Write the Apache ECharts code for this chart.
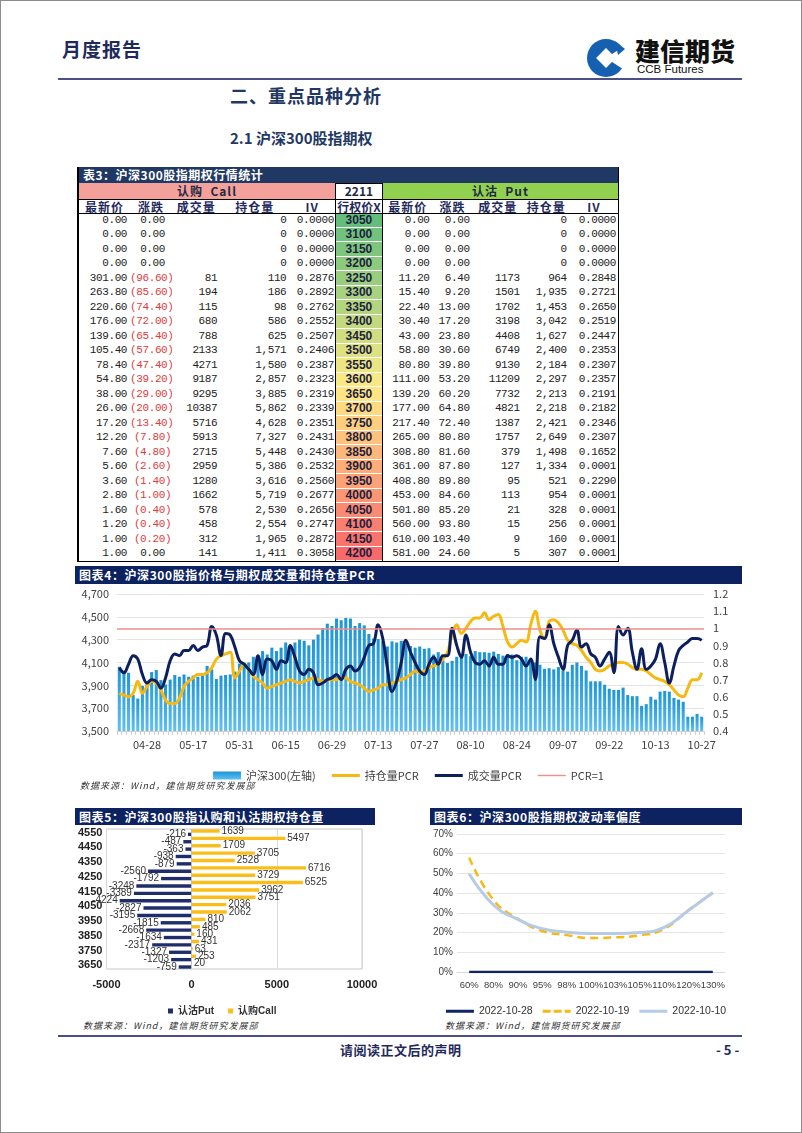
<!DOCTYPE html>
<html><head><meta charset="utf-8">
<script src="https://cdn.jsdelivr.net/npm/echarts/dist/echarts.min.js"></script>
<style>
body{margin:0;width:802px;height:1133px;position:relative;background:#fff;overflow:hidden;font-family:"Noto Sans CJK SC","Liberation Sans",sans-serif;}
.abs{position:absolute;}
.frame{left:0;top:0;width:800px;height:1131px;border:1px solid #8c8c8c;}
.hline{height:2px;background:#4a4f85;}
.tbar{background:#0c2261;color:#fff;font-weight:bold;font-size:12px;line-height:18px;padding-left:4px;letter-spacing:0.6px;box-sizing:border-box;}
.src{font-size:9px;font-style:italic;color:#333;letter-spacing:1px;}
table.q{border-collapse:collapse;table-layout:fixed;width:539px;}
table.q td{padding:0;overflow:hidden;white-space:pre;box-sizing:border-box;}
.ttl td{background:#203864;color:#fff;font-weight:bold;font-size:12px;height:16px;line-height:15px;padding-left:4px !important;letter-spacing:0.5px;}
.hd td{height:16px;line-height:14px;font-weight:bold;font-size:12px;text-align:center;color:#1f2a44;border-bottom:1.5px solid #000;}
.ch td{height:14px;line-height:13px;font-weight:bold;font-size:12px;letter-spacing:1px;color:#1f2a5c;text-align:center;border-bottom:1.5px solid #000;}
.dr td{height:14.5px;line-height:13px;font-family:"Liberation Mono",monospace;font-size:11px;letter-spacing:-0.4px;text-align:right;color:#222;padding-right:3px !important;}
.dr td.k{font-family:"Liberation Sans",sans-serif;font-weight:bold;font-size:12px;letter-spacing:0;text-align:center;color:#1f1f3f;box-shadow:inset 0 -1px 0 #fff;padding-right:0 !important;}
.neg{color:#e03c3c;}
</style></head>
<body>
<div class="abs frame"></div>
<div class="abs" style="left:62px;top:35px;font-size:19px;font-weight:bold;color:#1f2a5c;letter-spacing:1px;">月度报告</div>
<svg class="abs" style="left:585px;top:35px;" width="44" height="46" viewBox="0 0 44 46">
  <circle cx="21" cy="23" r="19" fill="#1560b0"/>
  <path d="M21 23 L44 8 L44 38 Z" fill="#fff"/>
  <rect x="14" y="16" width="14" height="14" fill="#fff" transform="rotate(45 21 23)"/>
  <path d="M30 6 L40 14 L33 20 Z" fill="#1560b0"/>
</svg>
<div class="abs" style="left:635px;top:36px;font-size:25px;font-weight:900;color:#111;line-height:28px;">建信期货</div>
<div class="abs" style="left:637px;top:63px;font-size:11.5px;color:#111;font-family:'Liberation Sans',sans-serif;">CCB Futures</div>
<div class="abs hline" style="left:58px;top:78px;width:684px;"></div>
<div class="abs" style="left:230px;top:82px;font-size:18px;font-weight:bold;color:#1f3864;letter-spacing:1px;">二、重点品种分析</div>
<div class="abs" style="left:230px;top:127px;font-size:15px;font-weight:bold;color:#1f3864;">2.1 沪深300股指期权</div>

<div class="abs" style="left:77px;top:167px;border-left:2px solid #000;border-right:1.5px solid #000;border-bottom:1.5px solid #000;">
<table class="q" id="tbl"></table>
</div>

<div class="abs tbar" style="left:75px;top:566px;width:667px;height:18px;">图表4：沪深300股指价格与期权成交量和持仓量PCR</div>
<div class="abs" id="c4" style="left:75px;top:584px;width:667px;height:200px;"></div>
<div class="abs src" style="left:80px;top:779px;">数据来源：Wind，建信期货研究发展部</div>

<div class="abs tbar" style="left:75px;top:808px;width:300px;height:17px;line-height:17px;">图表5：沪深300股指认购和认沽期权持仓量</div>
<div class="abs" id="c5" style="left:75px;top:825px;width:320px;height:190px;"></div>
<div class="abs tbar" style="left:430px;top:808px;width:312px;height:17px;line-height:17px;">图表6：沪深300股指期权波动率偏度</div>
<div class="abs" id="c6" style="left:430px;top:825px;width:312px;height:190px;"></div>
<div class="abs src" style="left:83px;top:1019px;">数据来源：Wind，建信期货研究发展部</div>
<div class="abs src" style="left:445px;top:1019px;">数据来源：Wind，建信期货研究发展部</div>

<div class="abs hline" style="left:58px;top:1035px;width:684px;"></div>
<div class="abs" style="left:340px;top:1040px;font-size:13px;font-weight:bold;color:#1f2a5c;letter-spacing:0.5px;">请阅读正文后的声明</div>
<div class="abs" style="left:716px;top:1040px;font-size:13px;font-weight:bold;color:#1f2a5c;">- 5 -</div>

<script>
// ---------- Table 3 data ----------
const strikes = [3050,3100,3150,3200,3250,3300,3350,3400,3450,3500,3550,3600,3650,3700,3750,3800,3850,3900,3950,4000,4050,4100,4150,4200];
const callLast = [0,0,0,0,301.00,263.80,220.60,176.00,139.60,105.40,78.40,54.80,38.00,26.00,17.20,12.20,7.60,5.60,3.60,2.80,1.60,1.20,1.00,1.00];
const callChg = [0,0,0,0,-96.60,-85.60,-74.40,-72.00,-65.40,-57.60,-47.40,-39.20,-29.00,-20.00,-13.40,-7.80,-4.80,-2.60,-1.40,-1.00,-0.40,-0.40,-0.20,0];
const callVol = [null,null,null,null,81,194,115,680,788,2133,4271,9187,9295,10387,5716,5913,2715,2959,1280,1662,578,458,312,141];
const callOI = [0,0,0,0,110,186,98,586,625,1571,1580,2857,3885,5862,4628,7327,5448,5386,3616,5719,2530,2554,1965,1411];
const callIV = [0,0,0,0,0.2876,0.2892,0.2762,0.2552,0.2507,0.2406,0.2387,0.2323,0.2319,0.2339,0.2351,0.2431,0.2430,0.2532,0.2560,0.2677,0.2656,0.2747,0.2872,0.3058];
const putLast = [0,0,0,0,11.20,15.40,22.40,30.40,43.00,58.80,80.80,111.00,139.20,177.00,217.40,265.00,308.80,361.00,408.80,453.00,501.80,560.00,610.00,581.00];
const putChg = [0,0,0,0,6.40,9.20,13.00,17.20,23.80,30.60,39.80,53.20,60.20,64.80,72.40,80.80,81.60,87.80,89.80,84.60,85.20,93.80,103.40,24.60];
const putVol = [null,null,null,null,1173,1501,1702,3198,4408,6749,9130,11209,7732,4821,1387,1757,379,127,95,113,21,15,9,5];
const putOI = [0,0,0,0,964,1935,1453,3042,1627,2400,2184,2297,2213,2218,2421,2649,1498,1334,521,954,328,256,160,307];
const putIV = [0,0,0,0,0.2848,0.2721,0.2650,0.2519,0.2447,0.2353,0.2307,0.2357,0.2191,0.2182,0.2346,0.2307,0.1652,0.0001,0.2290,0.0001,0.0001,0.0001,0.0001,0.0001];
const callHeaders = ['最新价','涨跌','成交量','持仓量','IV'];
const putHeaders = ['最新价','涨跌','成交量','持仓量','IV'];

// ---------- Chart 4 data ----------
const dates = ['04-20','04-21','04-22','04-25','04-26','04-27','04-28','04-29',
'05-05','05-06','05-09','05-10','05-11','05-12','05-13','05-16','05-17','05-18','05-19','05-20','05-23','05-24','05-25','05-26','05-27','05-30','05-31',
'06-01','06-02','06-06','06-07','06-08','06-09','06-10','06-13','06-14','06-15','06-16','06-17','06-20','06-21','06-22','06-23','06-24','06-27','06-28','06-29','06-30',
'07-01','07-04','07-05','07-06','07-07','07-08','07-11','07-12','07-13','07-14','07-15','07-18','07-19','07-20','07-21','07-22','07-25','07-26','07-27','07-28','07-29',
'08-01','08-02','08-03','08-04','08-05','08-08','08-09','08-10','08-11','08-12','08-15','08-16','08-17','08-18','08-19','08-22','08-23','08-24','08-25','08-26','08-29','08-30','08-31',
'09-01','09-02','09-05','09-06','09-07','09-08','09-09','09-13','09-14','09-15','09-16','09-19','09-20','09-21','09-22','09-23','09-26','09-27','09-28','09-29','09-30',
'10-10','10-11','10-12','10-13','10-14','10-17','10-18','10-19','10-20','10-21','10-24','10-25','10-26','10-27'];
const hs300 = [4063,4030,4010,3815,3784,3895,3921,4016,
4034,3946,3908,3950,3990,3975,3995,3975,3985,3975,3990,4070,4040,3955,3985,3990,3995,4020,4090,
4095,4100,4150,4160,4200,4170,4230,4200,4230,4275,4250,4275,4300,4290,4250,4300,4345,4400,4440,4420,4485,
4470,4490,4485,4420,4445,4425,4350,4310,4305,4290,4240,4285,4275,4290,4265,4245,4230,4240,4220,4225,4170,
4190,4120,4095,4115,4150,4160,4175,4155,4200,4190,4190,4185,4195,4175,4160,4175,4170,4120,4150,4150,4135,4100,4080,
4045,4050,4040,4060,4030,4020,4080,4100,4070,4030,3935,3935,3935,3905,3870,3860,3860,3880,3815,3805,3805,
3720,3735,3800,3775,3845,3850,3845,3790,3775,3755,3625,3625,3650,3625];
const oiPCR = [0.62,0.61,0.60,0.62,0.69,0.62,0.66,0.69,0.68,0.64,
0.58,0.56,0.56,0.59,0.66,0.69,0.71,0.73,0.73,0.74,
0.77,0.82,0.84,0.85,0.86,0.71,0.75,0.79,0.76,0.72,
0.70,0.68,0.65,0.66,0.67,0.68,0.69,0.70,0.69,0.68,
0.69,0.70,0.71,0.70,0.69,0.70,0.70,0.70,0.71,0.71,
0.69,0.68,0.67,0.65,0.63,0.64,0.65,0.67,0.67,0.68,
0.69,0.70,0.71,0.73,0.75,0.74,0.75,0.77,0.78,0.79,
0.82,0.86,0.96,1.02,0.97,1.00,1.04,1.06,1.06,1.09,
1.05,1.07,1.08,1.01,0.92,0.89,0.91,0.93,0.92,1.02,
1.10,0.99,0.94,1.04,1.05,1.03,0.99,0.93,0.91,0.90,
0.87,0.83,0.80,0.76,0.75,0.76,0.78,0.79,0.80,0.80,
0.79,0.77,0.76,0.76,0.75,0.73,0.71,0.70,0.69,0.67,
0.64,0.61,0.60,0.65,0.70,0.70,0.74];
const volPCR = [0.77,0.74,0.79,0.84,0.82,0.73,0.68,0.70,0.69,0.65,
0.71,0.81,0.85,0.84,0.87,0.87,0.90,0.87,0.89,0.90,
1.01,0.96,0.84,0.97,0.96,0.89,0.81,0.79,0.76,0.73,
0.84,0.73,0.82,0.81,0.76,0.81,0.80,0.90,0.83,0.75,
0.73,0.76,0.74,0.67,0.68,0.70,0.71,0.73,0.70,0.76,
0.78,0.75,0.77,0.83,0.90,0.91,1.02,0.94,0.77,0.63,
0.69,0.80,0.93,0.86,0.80,0.75,0.73,0.79,0.83,0.79,
0.84,0.84,1.00,0.90,0.83,0.96,0.86,0.80,0.79,0.81,
0.78,0.83,0.79,0.79,0.84,0.83,0.84,0.82,0.78,0.82,
0.70,0.95,0.94,1.02,0.91,0.83,0.76,0.90,0.93,0.99,
0.89,0.91,0.85,0.83,0.78,0.82,0.86,0.74,1.01,0.96,
1.00,0.86,0.76,0.88,0.76,0.78,0.82,0.91,0.80,0.68,
0.78,0.87,0.90,0.92,0.94,0.94,0.93];
const pcrRef = [1];
const leftTicks = {min:3500,max:4700,step:200};
const rightTicks = {min:0.4,max:1.2,step:0.1};

// ---------- Chart 5 data ----------
const oiStrikes = [3650,3700,3750,3800,3850,3900,3950,4000,4050,4100,4150,4200,4250,4300,4350,4400,4450,4500,4550];
const putOI5 = [-759,-1203,-1327,-2317,-1634,-2668,-1815,-3195,-2827,-4224,-3389,-3248,-1792,-2560,-879,-938,-363,-487,-216];
const callOI5 = [20,253,63,431,160,485,810,2062,2036,3751,3962,6525,3729,6716,2528,3705,1709,5497,1639];

// ---------- Chart 6 data ----------
const moneyness = ['60%','80%','90%','95%','98%','100%','103%','105%','110%','120%','130%'];
const iv1028 = [0,0,0,0,0,0,0,0,0,0,0];
const iv1019 = [58,36.5,27,20.8,18.7,17.2,17.6,18.6,21.8,31.5,40];
const iv1010 = [49.8,34,26.7,22,20.2,19.5,19.5,20,22.6,31.2,40.3];

// legend icons (line swatches)
const LINE_ICON = 'path://M0,0H28V3H0Z';
const THIN_ICON = 'path://M0,0H28V1.4H0Z';
const DASH_ICON = 'path://M0,0H8V3H0Z M11,0H19V3H11Z M22,0H28V3H22Z';

// ---------- build table ----------
(function(){
  const t = document.getElementById('tbl');
  const widths = [51,42,48,69,46,47,50,40,50,47,48];
  let h = '<colgroup>' + widths.map(w=>'<col style="width:'+w+'px">').join('') + '</colgroup>';
  h += '<tr class="ttl"><td colspan="11">表3：沪深300股指期权行情统计</td></tr>';
  h += '<tr class="hd"><td colspan="5" style="background:#f4a19c;letter-spacing:1px;">认购  Call</td>'+
       '<td style="background:#fff;border-left:1.5px solid #000;border-right:1.5px solid #000;border-top:1.5px solid #000;">2211</td>'+
       '<td colspan="5" style="background:#92d050;letter-spacing:1px;">认沽  Put</td></tr>';
  h += '<tr class="ch">' + callHeaders.map(s=>'<td>'+s+'</td>').join('') +
       '<td style="border-left:1.5px solid #000;border-right:1.5px solid #000;letter-spacing:0;">行权价X</td>' +
       putHeaders.map(s=>'<td>'+s+'</td>').join('') + '</tr>';
  const lo = strikes[0], hi = strikes[strikes.length-1];
  const sorted = strikes.slice().sort((a,b)=>a-b);
  const n = sorted.length;
  const mid = n%2 ? sorted[(n-1)/2] : (sorted[n/2-1]+sorted[n/2])/2;
  const G=[99,190,123], Y=[255,235,132], R=[248,105,107];
  function mix(a,b,f){return 'rgb('+a.map((v,i)=>Math.round(v+(b[i]-v)*f)).join(',')+')';}
  function col(v){ return v<=mid ? mix(G,Y,(v-lo)/(mid-lo)) : mix(Y,R,(v-mid)/(hi-mid)); }
  const f2 = v=>v.toFixed(2);
  const f4 = v=>v.toFixed(4);
  const big = v=> v>=1000 ? v.toLocaleString('en-US') : String(v);
  const chg = v=> v<0 ? '<span class="neg">('+Math.abs(v).toFixed(2)+')</span>' : v.toFixed(2)+' ';
  for(let i=0;i<strikes.length;i++){
    h += '<tr class="dr">' +
      '<td>'+f2(callLast[i])+'</td>' +
      '<td style="padding-right:1px !important">'+chg(callChg[i])+'</td>' +
      '<td>'+(callVol[i]==null?'':callVol[i])+'</td>' +
      '<td>'+big(callOI[i])+'</td>' +
      '<td style="padding-right:1px !important">'+f4(callIV[i])+'</td>' +
      '<td class="k" style="background:'+col(strikes[i])+';border-left:1.5px solid #000;border-right:1.5px solid #000;">'+strikes[i]+'</td>' +
      '<td>'+f2(putLast[i])+'</td>' +
      '<td>'+f2(putChg[i])+'</td>' +
      '<td>'+(putVol[i]==null?'':putVol[i])+'</td>' +
      '<td>'+big(putOI[i])+'</td>' +
      '<td style="padding-right:2px !important">'+f4(putIV[i])+'</td>' +
      '</tr>';
  }
  t.innerHTML = h;
})();

// ---------- Chart 4 ----------
const c4 = echarts.init(document.getElementById('c4'), null, {renderer:'canvas'});
c4.setOption({
  animation:false,
  textStyle:{fontFamily:'"Noto Sans CJK SC","Liberation Sans",sans-serif'},
  grid:{left:42,right:38,top:10,bottom:53},
  legend:{
    top:181,left:'center',itemWidth:28,itemHeight:8,itemGap:16,
    textStyle:{fontSize:11,color:'#404040'},
    data:[{name:'沪深300(左轴)',icon:'rect'},{name:'持仓量PCR',icon:LINE_ICON},{name:'成交量PCR',icon:LINE_ICON},{name:'PCR=1',icon:THIN_ICON}]
  },
  xAxis:{
    type:'category',data:dates,boundaryGap:true,
    axisLine:{lineStyle:{color:'#d0d0d0'}},
    axisTick:{show:true,interval:0,length:4,lineStyle:{color:'#d0d0d0'}},
    axisLabel:{interval:(i)=>((i-6)%10===0),color:'#404040',fontSize:11,margin:8}
  },
  yAxis:[
    {type:'value',min:leftTicks.min,max:leftTicks.max,interval:leftTicks.step,
     axisLabel:{formatter:v=>v.toLocaleString('en-US'),color:'#404040',fontSize:11,margin:8},
     splitLine:{lineStyle:{color:'#e3e3e3'}},axisLine:{show:false},axisTick:{show:false}},
    {type:'value',min:rightTicks.min,max:rightTicks.max,interval:rightTicks.step,
     axisLabel:{formatter:v=>String(Math.round(v*10)/10),color:'#404040',fontSize:11,margin:9},
     splitLine:{show:false},axisLine:{show:false},axisTick:{show:false}}
  ],
  series:[
    {name:'沪深300(左轴)',type:'bar',data:hs300,barWidth:'66%',
     itemStyle:{color:new echarts.graphic.LinearGradient(0,0,0,1,[{offset:0,color:'#1c95d8'},{offset:1,color:'#5fc0f0'}])}},
    {name:'PCR=1',type:'line',yAxisIndex:1,data:[],symbol:'none',
     lineStyle:{color:'#f08c8c',width:1.5},itemStyle:{color:'#f08c8c'},
     markLine:{silent:true,symbol:'none',label:{show:false},lineStyle:{color:'#f08c8c',width:1.5,type:'solid'},
       data:[{yAxis:pcrRef[0]}]}},
    {name:'持仓量PCR',type:'line',yAxisIndex:1,data:oiPCR,smooth:0.4,symbol:'none',
     lineStyle:{width:3,color:'#f7b90f'},itemStyle:{color:'#f7b90f'}},
    {name:'成交量PCR',type:'line',yAxisIndex:1,data:volPCR,smooth:0.4,symbol:'none',
     lineStyle:{width:3,color:'#0d1f5c'},itemStyle:{color:'#0d1f5c'}}
  ]
});

// ---------- Chart 5 ----------
const c5 = echarts.init(document.getElementById('c5'), null, {renderer:'canvas'});
c5.setOption({
  animation:false,
  textStyle:{fontFamily:'"Liberation Sans","Noto Sans CJK SC",sans-serif'},
  grid:{left:30,right:33,top:4,bottom:46,show:true,borderColor:'#c8c8c8',borderWidth:1},
  legend:{top:176,left:88,itemWidth:5,itemHeight:5,itemGap:14,icon:'rect',
    textStyle:{fontSize:10,fontWeight:'bold',color:'#333'},
    data:['认沽Put','认购Call']},
  xAxis:{type:'value',min:-5000,max:10000,interval:5000,
    axisLabel:{formatter:v=>String(v),fontWeight:'bold',fontSize:11,color:'#222',margin:10},
    splitLine:{lineStyle:{color:'#d9d9d9'}},axisLine:{show:false},axisTick:{show:false}},
  yAxis:{type:'category',data:oiStrikes,
    axisLabel:{interval:1,fontWeight:'bold',fontSize:11,color:'#222',margin:4},
    axisLine:{show:false,onZero:false},axisTick:{show:false}},
  series:[
    {name:'认购Call',type:'bar',data:callOI5,barGap:'0%',barCategoryGap:'8%',
     itemStyle:{color:'#fbbd18'},
     label:{show:true,position:'right',distance:2,fontSize:10,color:'#333'}},
    {name:'认沽Put',type:'bar',data:putOI5,barGap:'0%',barCategoryGap:'8%',
     itemStyle:{color:'#1f2d6b'},
     label:{show:true,position:'left',distance:2,fontSize:10,color:'#333'},
     markLine:{silent:true,symbol:'none',label:{show:false},lineStyle:{color:'#bdbdbd',width:1,type:'solid'},data:[{xAxis:0}]}}
  ]
});

// ---------- Chart 6 ----------
const c6 = echarts.init(document.getElementById('c6'), null, {renderer:'canvas'});
c6.setOption({
  animation:false,
  textStyle:{fontFamily:'"Liberation Sans","Noto Sans CJK SC",sans-serif'},
  grid:{left:25,right:17,top:9,bottom:43},
  legend:{top:176,left:'center',itemWidth:28,itemHeight:8,itemGap:10,
    textStyle:{fontSize:10.5,color:'#333'},
    data:[{name:'2022-10-28',icon:LINE_ICON},{name:'2022-10-19',icon:DASH_ICON},{name:'2022-10-10',icon:LINE_ICON}]},
  xAxis:{type:'category',data:moneyness,boundaryGap:true,
    axisLine:{lineStyle:{color:'#d9d9d9'}},axisTick:{show:false},
    axisLabel:{interval:0,fontSize:9.5,color:'#404040',margin:9}},
  yAxis:{type:'value',min:0,max:70,interval:10,
    axisLabel:{formatter:v=>v+'%',fontSize:10,color:'#404040',margin:4},
    splitLine:{lineStyle:{color:'#e6e6e6'}},axisLine:{show:false},axisTick:{show:false}},
  series:[
    {name:'2022-10-28',type:'line',data:iv1028,symbol:'none',smooth:true,
     lineStyle:{width:2.5,color:'#0e2464'},itemStyle:{color:'#0e2464'}},
    {name:'2022-10-19',type:'line',data:iv1019,symbol:'none',smooth:true,
     lineStyle:{width:2.5,color:'#f7b90f',type:[8,5]},itemStyle:{color:'#f7b90f'}},
    {name:'2022-10-10',type:'line',data:iv1010,symbol:'none',smooth:true,
     lineStyle:{width:3,color:'#b6cbe6'},itemStyle:{color:'#b6cbe6'}}
  ]
});
</script>
</body></html>
